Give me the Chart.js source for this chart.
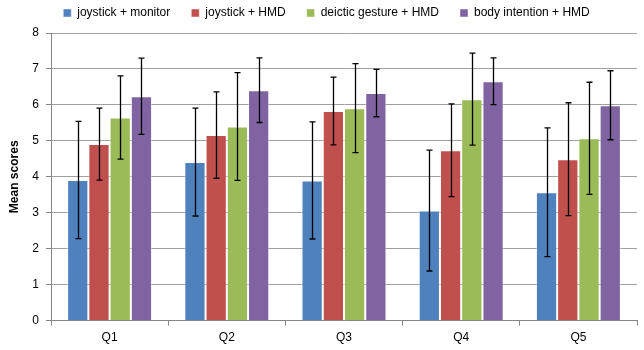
<!DOCTYPE html>
<html>
<head>
<meta charset="utf-8">
<script src="https://cdn.jsdelivr.net/npm/chart.js@4.4.1/dist/chart.umd.min.js"></script>
<style>
  html, body { margin: 0; padding: 0; background: #fff; }
</style>
</head>
<body>
<canvas id="chart" width="644" height="350"></canvas>
<script>
// Mean scores per question, with error bars (+/-)
const categories = ['Q1', 'Q2', 'Q3', 'Q4', 'Q5'];
const seriesNames = ['joystick + monitor', 'joystick + HMD', 'deictic gesture + HMD', 'body intention + HMD'];
const seriesColors = ['#4F81BD', '#C0504D', '#9BBB59', '#8064A2'];

const joystickMonitor = [3.91, 4.41, 3.90, 3.06, 3.57];
const joystickHmd     = [4.91, 5.16, 5.83, 4.74, 4.49];
const deicticHmd      = [5.65, 5.40, 5.91, 6.16, 5.07];
const bodyHmd         = [6.24, 6.41, 6.33, 6.66, 5.99];

const joystickMonitorErr = [1.63, 1.50, 1.63, 1.68, 1.79];
const joystickHmdErr     = [1.00, 1.20, 0.94, 1.29, 1.57];
const deicticHmdErr      = [1.16, 1.50, 1.24, 1.28, 1.56];
const bodyHmdErr         = [1.06, 0.90, 0.66, 0.65, 0.96];

const yTicks = [0, 1, 2, 3, 4, 5, 6, 7, 8];

const FONT = "'Liberation Sans', Arial, sans-serif";

// error bars drawn from the y scale
const errorBars = {
  id: 'errorBars',
  afterDatasetsDraw(chart) {
    const { ctx } = chart;
    const y = chart.scales.y;
    ctx.save();
    ctx.strokeStyle = '#000';
    ctx.lineWidth = 1.3;
    chart.data.datasets.forEach((ds, i) => {
      chart.getDatasetMeta(i).data.forEach((bar, j) => {
        const m = ds.data[j], e = ds.errors[j];
        const top = y.getPixelForValue(m + e);
        const bot = y.getPixelForValue(m - e);
        const x = Math.round(bar.x) + 0.5;
        ctx.beginPath();
        ctx.moveTo(x, top); ctx.lineTo(x, bot);
        ctx.moveTo(x - 3, top); ctx.lineTo(x + 3, top);
        ctx.moveTo(x - 3, bot); ctx.lineTo(x + 3, bot);
        ctx.stroke();
      });
    });
    ctx.restore();
  }
};

// a bit more room under the legend, and nudge it right like the original
const legendTweak = {
  id: 'legendTweak',
  afterInit(chart) {
    const lg = chart.legend;
    const fit = lg.fit;
    lg.fit = function () { fit.call(this); this.height += 4; };
    const draw = lg.draw;
    lg.draw = function () {
      const ctx = this.ctx;
      ctx.save();
      ctx.translate(8, 0);
      draw.call(this);
      ctx.restore();
    };
  }
};

const values = [joystickMonitor, joystickHmd, deicticHmd, bodyHmd];
const errors = [joystickMonitorErr, joystickHmdErr, deicticHmdErr, bodyHmdErr];

new Chart(document.getElementById('chart'), {
  type: 'bar',
  data: {
    labels: categories,
    datasets: seriesNames.map((name, i) => ({
      label: name,
      data: values[i],
      errors: errors[i],
      backgroundColor: seriesColors[i],
      borderColor: 'rgba(255,255,255,0.45)',
      borderWidth: 1,
      barPercentage: 1,
      categoryPercentage: 0.725,
    })),
  },
  options: {
    responsive: false,
    animation: false,
    layout: { padding: { top: -14, right: 7, bottom: 0, left: 0 } },
    plugins: {
      legend: {
        position: 'top',
        labels: {
          boxWidth: 8, boxHeight: 8, padding: 21,
          color: '#000',
          font: { family: FONT, size: 12 },
        },
      },
      tooltip: { enabled: false },
    },
    scales: {
      x: {
        grid: { display: true, drawOnChartArea: false, tickLength: 5, color: '#868686' },
        border: { color: '#868686' },
        ticks: { color: '#000', padding: 5, font: { family: FONT, size: 12 } },
      },
      y: {
        min: 0, max: 8,
        afterFit(scale) { scale.width = 51; },
        afterBuildTicks(scale) { scale.ticks = yTicks.map(v => ({ value: v })); },
        grid: { color: '#A0A0A0', tickLength: 5, tickColor: '#868686' },
        border: { color: '#868686' },
        ticks: { color: '#000', padding: 7, font: { family: FONT, size: 12 } },
        title: {
          display: true, text: 'Mean scores', color: '#000',
          padding: { top: 7, bottom: 0 },
          font: { family: FONT, size: 12, weight: 'bold' },
        },
      },
    },
  },
  plugins: [errorBars, legendTweak],
});
</script>
</body>
</html>
